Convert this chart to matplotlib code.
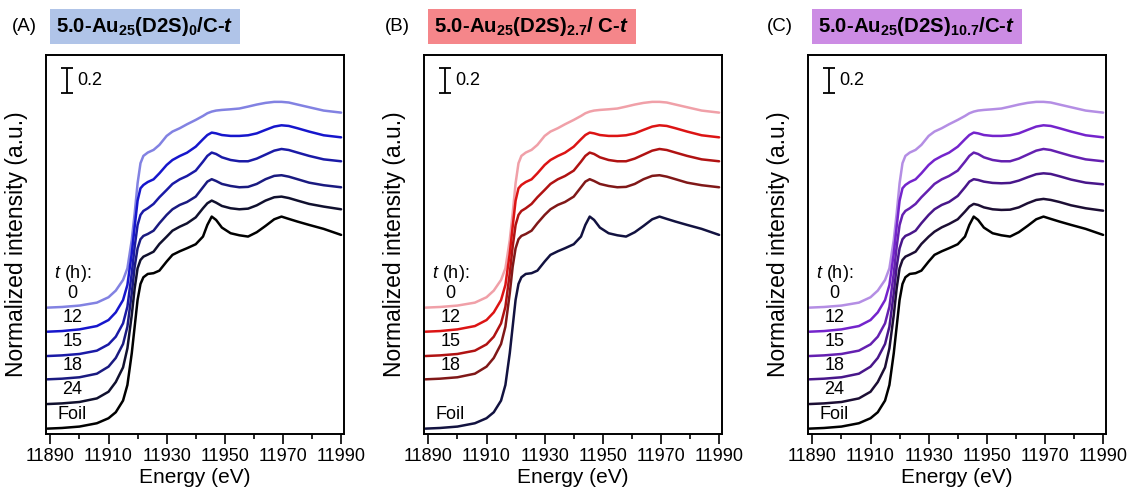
import matplotlib.pyplot as plt

plt.rcParams['font.family'] = ['Liberation Sans', 'DejaVu Sans']
plt.rcParams['mathtext.fontset'] = 'custom'
plt.rcParams['mathtext.rm'] = 'Liberation Sans'
plt.rcParams['mathtext.it'] = 'Liberation Sans:italic'
plt.rcParams['mathtext.bf'] = 'Liberation Sans:bold'
plt.rcParams['mathtext.bfit'] = 'Liberation Sans:bold:italic'

# Au L3-edge XANES, energy grid (eV)
energy = [11889, 11894, 11900, 11906, 11910, 11912.5, 11915, 11916.5, 11918, 11919,
          11920, 11921, 11922, 11923.5, 11925.5, 11927.5, 11930, 11932, 11934.5, 11937,
          11940, 11942.5, 11944, 11945.5, 11947, 11949, 11952, 11955, 11958, 11961,
          11964, 11967, 11969.5, 11972, 11975, 11979, 11984, 11990]
major_ticks = [11890, 11910, 11930, 11950, 11970, 11990]
minor_ticks = [11900, 11920, 11940, 11960, 11980]

# normalized intensity (before vertical offset)
foil = [0.000, 0.005, 0.016, 0.042, 0.081, 0.128, 0.219, 0.341, 0.589, 0.797,
        1.005, 1.130, 1.182, 1.208, 1.214, 1.234, 1.305, 1.357, 1.385, 1.409,
        1.440, 1.500, 1.591, 1.656, 1.630, 1.570, 1.526, 1.510, 1.500, 1.534,
        1.583, 1.635, 1.656, 1.638, 1.617, 1.591, 1.560, 1.513]
a_0h = [0.000, 0.005, 0.016, 0.039, 0.081, 0.133, 0.216, 0.307, 0.529, 0.737,
        0.971, 1.128, 1.185, 1.211, 1.232, 1.271, 1.341, 1.375, 1.401, 1.432,
        1.466, 1.497, 1.518, 1.531, 1.539, 1.544, 1.549, 1.555, 1.570, 1.586,
        1.599, 1.607, 1.607, 1.602, 1.586, 1.565, 1.539, 1.523]
a_12h = [0.000, 0.005, 0.018, 0.044, 0.091, 0.151, 0.247, 0.365, 0.612, 0.820,
         1.023, 1.120, 1.146, 1.169, 1.190, 1.237, 1.302, 1.341, 1.372, 1.398,
         1.445, 1.503, 1.536, 1.555, 1.549, 1.536, 1.529, 1.529, 1.534, 1.549,
         1.576, 1.602, 1.612, 1.607, 1.589, 1.563, 1.534, 1.518]
a_15h = [0.000, 0.005, 0.016, 0.042, 0.091, 0.151, 0.255, 0.385, 0.646, 0.854,
         1.023, 1.102, 1.133, 1.154, 1.188, 1.240, 1.297, 1.344, 1.380, 1.406,
         1.448, 1.518, 1.563, 1.589, 1.578, 1.552, 1.531, 1.521, 1.521, 1.542,
         1.573, 1.604, 1.617, 1.609, 1.589, 1.563, 1.536, 1.521]
a_18h = [0.000, 0.005, 0.016, 0.044, 0.099, 0.167, 0.276, 0.411, 0.672, 0.880,
         1.023, 1.094, 1.120, 1.135, 1.161, 1.219, 1.284, 1.328, 1.362, 1.385,
         1.427, 1.500, 1.544, 1.563, 1.549, 1.526, 1.510, 1.500, 1.503, 1.526,
         1.563, 1.589, 1.594, 1.583, 1.563, 1.536, 1.516, 1.500]
a_24h = [0.000, 0.005, 0.016, 0.044, 0.096, 0.172, 0.286, 0.435, 0.695, 0.904,
         1.060, 1.125, 1.151, 1.167, 1.190, 1.250, 1.307, 1.354, 1.385, 1.411,
         1.458, 1.529, 1.568, 1.589, 1.573, 1.547, 1.529, 1.521, 1.526, 1.552,
         1.589, 1.615, 1.620, 1.609, 1.589, 1.563, 1.542, 1.521]
c_18h = [0.000, 0.005, 0.016, 0.044, 0.099, 0.167, 0.276, 0.411, 0.672, 0.880,
         1.023, 1.094, 1.120, 1.135, 1.161, 1.219, 1.284, 1.328, 1.362, 1.385,
         1.432, 1.500, 1.544, 1.563, 1.557, 1.544, 1.534, 1.531, 1.534, 1.552,
         1.578, 1.602, 1.609, 1.604, 1.586, 1.560, 1.536, 1.523]
c_24h = [0.000, 0.005, 0.016, 0.044, 0.096, 0.172, 0.286, 0.435, 0.695, 0.904,
         1.060, 1.125, 1.151, 1.167, 1.190, 1.250, 1.307, 1.346, 1.380, 1.406,
         1.443, 1.503, 1.542, 1.563, 1.555, 1.536, 1.521, 1.516, 1.518, 1.536,
         1.568, 1.594, 1.602, 1.594, 1.578, 1.552, 1.529, 1.510]

labels_ac = ['0', '12', '15', '18', '24', 'Foil']
labels_b = ['0', '12', '15', '18', 'Foil']
offsets_ac = [0.987, 0.799, 0.609, 0.427, 0.234, 0.042]
offsets_b = [0.987, 0.799, 0.609, 0.427, 0.042]

colors_a = ['#8282e2', '#1616cc', '#1a1aa6', '#1a1a80', '#10102e', '#000000']
colors_b = ['#f0a0a8', '#dc1414', '#b01212', '#801818', '#121240']
colors_c = ['#b48ee4', '#7424cc', '#6420b0', '#48168a', '#1c0e34', '#000000']

panels = [
    ('(A)', r'5.0-Au$_{\mathbf{25}}$(D2S)$_{\mathbf{0}}$/C-$\mathbfit{t}$', '#b0c4e8',
     labels_ac, [a_0h, a_12h, a_15h, a_18h, a_24h, foil], offsets_ac, colors_a, 46, -0.115),
    ('(B)', r'5.0-Au$_{\mathbf{25}}$(D2S)$_{\mathbf{2.7}}$/ C-$\mathbfit{t}$', '#f5868a',
     labels_b, [a_0h, a_12h, a_15h, a_18h, foil], offsets_b, colors_b, 424, -0.13),
    ('(C)', r'5.0-Au$_{\mathbf{25}}$(D2S)$_{\mathbf{10.7}}$/C-$\mathbfit{t}$', '#cc8ce4',
     labels_ac, [a_0h, a_12h, a_15h, c_18h, c_24h, foil], offsets_ac, colors_c, 808, -0.137),
]

W, H = 1131, 494
fig = plt.figure(figsize=(W / 100, H / 100), dpi=100)

for tag, title, box_color, labels, curves, offsets, colors, left_px, tag_x in panels:
    ax = fig.add_axes([left_px / W, 60 / H, 298 / W, 379 / H])

    for lab, mu, off, col in zip(labels, curves, offsets, colors):
        ax.plot(energy, [v + off for v in mu], color=col, lw=1.8, solid_capstyle='round')
        ax.text(11897.5, off + 0.11, lab, ha='center', va='center', fontsize=13)
    ax.text(11897.5, offsets[0] + 0.27, r'$\it{t}$ (h):', ha='center', va='center', fontsize=13)

    # 0.2 scale bar
    ax.errorbar(11895.8, 2.76, yerr=0.1, color='k', lw=1.3, capsize=4, capthick=1.3)
    ax.text(11899.4, 2.76, '0.2', ha='left', va='center', fontsize=13)

    ax.set_xlim(11888.5, 11991)
    ax.set_ylim(0, 2.96)
    ax.set_xticks(major_ticks)
    ax.set_xticks(minor_ticks, minor=True)
    ax.tick_params(axis='x', which='major', direction='out', length=7, width=1.2,
                   labelsize=13, pad=3)
    ax.tick_params(axis='x', which='minor', direction='out', length=3.5, width=1.2)
    ax.set_yticks([])
    for sp in ax.spines.values():
        sp.set_linewidth(1.4)

    ax.set_xlabel('Energy (eV)', fontsize=15, labelpad=2)
    ax.set_ylabel('Normalized intensity (a.u.)', fontsize=16.5)
    ax.yaxis.set_label_coords(-0.06, 0.5)

    ax.text(tag_x, 1.075, tag, transform=ax.transAxes, ha='left', va='center', fontsize=13.5)
    ax.text(0.035, 1.075, title, transform=ax.transAxes, ha='left', va='center',
            fontsize=14.7, fontweight='bold',
            bbox=dict(boxstyle='square,pad=0.3', fc=box_color, ec='none'))

fig.savefig('out.png', dpi=100)
